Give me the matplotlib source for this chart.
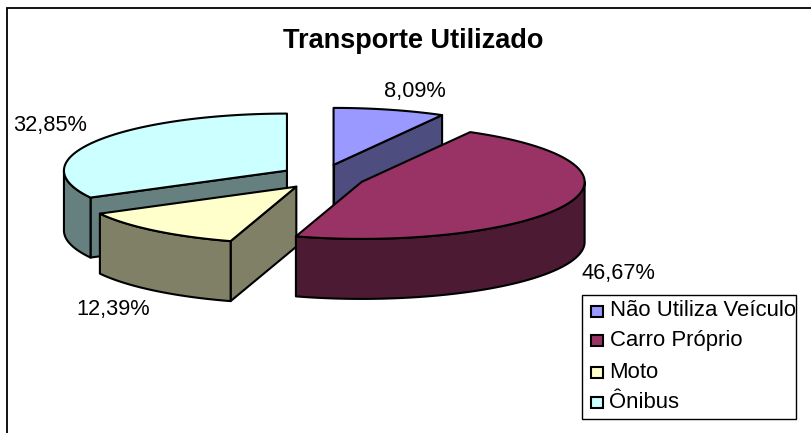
import numpy as np
import matplotlib
matplotlib.use("Agg")
import matplotlib.pyplot as plt
from matplotlib.patches import Polygon, Rectangle

title = "Transporte Utilizado"
categories = ["Não Utiliza Veículo", "Carro Próprio", "Moto", "Ônibus"]
values = [8.09, 46.67, 12.39, 32.85]
top_colors = ["#9999FF", "#993366", "#FFFFCC", "#CCFFFF"]
side_colors = ["#4D4D80", "#4D1A33", "#808066", "#668080"]
label_xy = [(415, 91), (618, 273), (113, 309), (50, 125)]

plt.rcParams["font.family"] = ["Liberation Sans", "DejaVu Sans"]
W, H = 811, 433
fig = plt.figure(figsize=(W / 100, H / 100), dpi=100)
ax = fig.add_axes([0, 0, 1, 1])
ax.set_xlim(0, W)
ax.set_ylim(H, 0)
ax.axis("off")

CX, CY = 323, 177
A, B = 223, 57
EA, EB = 42, 12.5
DEPTH = 60
LW = 1.5


def rim(c, theta):
    t = np.radians(theta)
    return np.column_stack([c[0] + A * np.sin(t), c[1] - B * np.cos(t)])


def draw_slice(i, start, end):
    mid = np.radians((start + end) / 2)
    c = (CX + EA * np.sin(mid), CY - EB * np.cos(mid))
    side = dict(facecolor=side_colors[i], edgecolor="black", lw=LW, joinstyle="round")
    for theta, visible in ((start, np.sin(np.radians(start)) < -1e-6),
                           (end, np.sin(np.radians(end)) > 1e-6)):
        if visible:
            p = rim(c, theta)[0]
            ax.add_patch(Polygon([c, p, (p[0], p[1] + DEPTH), (c[0], c[1] + DEPTH)], **side))
    if i == 0:
        ax.add_patch(Polygon([c, (c[0], c[1] + DEPTH)], closed=False, fill=False,
                             edgecolor="black", lw=LW))
    lo, hi = max(start, 90), min(end, 270)
    if lo < hi:
        arc = rim(c, np.linspace(lo, hi, 120))
        ax.add_patch(Polygon(np.vstack([arc, (arc + [0, DEPTH])[::-1]]), **side))
    arc = rim(c, np.linspace(start, end, 200))
    ax.add_patch(Polygon(np.vstack([[c], arc]), facecolor=top_colors[i],
                         edgecolor="black", lw=LW, joinstyle="round"))


# frame: only the top and left edges fall inside the picture
ax.add_patch(Polygon([(6.5, H + 2), (6.5, 7.5), (W + 2, 7.5)], closed=False, fill=False,
                     edgecolor="black", lw=1.3))

edges = np.concatenate([[0], np.cumsum(values)]) / sum(values) * 360
for i in (0, 3, 2, 1):
    draw_slice(i, edges[i], edges[i + 1])

ax.text(413, 40.5, title, ha="center", va="center", fontsize=19.5, fontweight="bold", color="black")

for v, (x, y) in zip(values, label_xy):
    ax.text(x, y, f"{v:.2f}%".replace(".", ","), ha="center", va="center", fontsize=15.7, color="black")

# legend
ax.add_patch(Rectangle((582, 295), 213.5, 124, facecolor="white", edgecolor="black", lw=1.0))
swatch_y = [311, 340.5, 372.5, 402]
base_y = [316, 346, 378, 408.5]
for name, col, sy, by in zip(categories, top_colors, swatch_y, base_y):
    ax.add_patch(Rectangle((590.5, sy - 5.5), 12, 11, facecolor=col, edgecolor="black", lw=1.5))
    ax.text(609.5, by, name, ha="left", va="baseline", fontsize=15.9, color="black")

fig.savefig("out.png", dpi=100)
